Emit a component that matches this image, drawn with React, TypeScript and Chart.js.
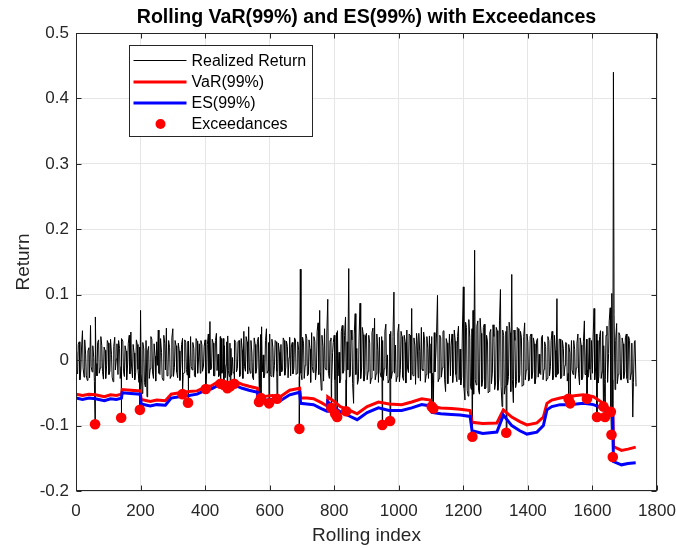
import { useEffect, useRef } from "react";
import { Chart, registerables } from "chart.js";
Chart.register(...registerables);

const FONT = '"Liberation Sans", Arial, Helvetica, sans-serif';

const TITLE = "Rolling VaR(99%) and ES(99%) with Exceedances";
const X_LABEL = "Rolling index";
const Y_LABEL = "Return";
const SERIES_NAMES = ["Realized Return", "VaR(99%)", "ES(99%)", "Exceedances"];

const xTicks = [0, 200, 400, 600, 800, 1000, 1200, 1400, 1600, 1800];
const yTicks = [-0.2, -0.1, 0, 0.1, 0.2, 0.3, 0.4, 0.5];

// realized return at rolling index 5*i (0..1735)
const RET_STEP = 5;
const returnsA = [
  0.012, -0.021, 0.028, -0.015, 0.045, -0.026, 0.008, -0.031, 0.019, 0.053, -0.018, 0.004, 0.066, -0.024, 0.031, -0.012, 0.022, -0.029, 0.015, -0.008,
  0.026, -0.017, 0.009, -0.033, 0.035, 0.002, -0.022, 0.018, -0.010, 0.029, -0.025, 0.014, -0.006, 0.038, 0.043, -0.027, 0.011, -0.019, 0.024, -0.034,
  0.076, -0.051, 0.017, -0.041, -0.056, 0.021, -0.013, 0.032, -0.028, 0.006, 0.028, 0.046, -0.022, 0.012, -0.031, 0.025, 0.049, -0.017, 0.019, -0.024,
  0.048, -0.011, 0.022, -0.027, 0.014, -0.006, 0.033, -0.019, 0.027, -0.023, 0.010, 0.036, -0.015, 0.018, -0.026, 0.029, 0.005, -0.020, 0.024, -0.009,
  0.031, -0.018, 0.040, 0.059, -0.012, 0.026, -0.024, 0.041, 0.009, -0.021, 0.033, -0.014, 0.022, -0.007, 0.037, -0.025, 0.018, 0.004, -0.019, 0.027,
  -0.013, 0.030, -0.022, 0.016, 0.044, -0.017, 0.028, 0.051, -0.020, 0.011, -0.030, 0.024, -0.012, 0.035, -0.026, 0.051, 0.008, -0.021, 0.048, -0.016,
  0.040, -0.025, 0.019, -0.008, 0.028, -0.020, 0.012, 0.024, -0.016, 0.030, -0.011, 0.021, 0.004, -0.024, 0.027, -0.013, 0.031, -0.020, 0.015, 0.139,
  -0.030, 0.026, -0.008, 0.033, -0.022, 0.017, 0.042, -0.019, 0.029, -0.012, 0.057, 0.076, -0.046, 0.021, 0.048, -0.015, 0.093, -0.028, 0.034, 0.012,
  0.038, -0.021, 0.045, 0.012, -0.029, 0.053, -0.016, 0.066, 0.028, 0.140, -0.024, 0.031, -0.066, 0.071, 0.018, -0.030, 0.087, -0.012, 0.039, -0.022,
  0.041, -0.017, 0.026, -0.028, 0.049, 0.064, -0.021, 0.015, 0.035, -0.026, 0.030, -0.013, 0.055, 0.008, -0.030, 0.044, -0.018, 0.104, 0.023, -0.025,
  0.055, -0.014, 0.036, -0.031, 0.027, 0.046, -0.019, 0.038, 0.079, -0.024, 0.022, 0.041, -0.027, 0.013, 0.050, -0.016, 0.031, -0.022, 0.018, 0.037,
  0.025, -0.020, 0.042, 0.011, 0.099, -0.028, 0.034, -0.012, 0.045, -0.048, 0.026, 0.008, -0.024, 0.040, -0.015, 0.029, -0.033, 0.052, 0.017, -0.026,
  0.112, -0.061, 0.050, -0.055, 0.035, -0.045, 0.076, 0.168, -0.038, 0.060, -0.052, 0.041, -0.030, 0.055, -0.042, 0.028, -0.048, 0.047, -0.020, 0.036,
  -0.035, 0.045, -0.028, 0.108, -0.071, 0.038, -0.040, 0.052, -0.025, 0.042, 0.131, -0.065, 0.030, -0.033, 0.048, -0.022, 0.035, -0.038, 0.057, -0.015,
  0.028, -0.030, 0.040, -0.018, 0.025, -0.026, 0.033, 0.009, -0.022, 0.038, -0.014, 0.021, -0.028, 0.030, -0.010, 0.044, -0.023, 0.015, 0.094, -0.020,
  0.032, -0.025, 0.018, -0.008, 0.026, -0.020, 0.011, 0.030, -0.022, 0.016, -0.012, 0.040, -0.038, 0.023, -0.026, 0.060, 0.005, -0.015, 0.034, -0.030,
  -0.020, 0.079, -0.012, 0.030, -0.025, 0.045, -0.018, 0.022, -0.030, 0.052, 0.010, 0.080, 0.102, 0.440, -0.045, 0.056, -0.022, 0.038, -0.030, 0.025,
  -0.018, 0.040, -0.035, 0.030, -0.020, -0.087, 0.028, -0.040,
];

// realized return at rolling index 5*i + 2 (2..1732)
const RET_OFFSET_B = 2;
const returnsB = [
  -0.019, 0.024, -0.030, 0.017, -0.012, 0.031, -0.024, 0.014, -0.027, -0.010, 0.022, -0.033, -0.005, 0.027, -0.020, 0.036, -0.017, 0.020, -0.028, 0.030,
  -0.022, 0.032, -0.026, 0.021, -0.015, 0.025, 0.030, -0.028, 0.033, -0.017, 0.022, -0.030, 0.026, -0.021, -0.009, 0.024, -0.030, 0.031, -0.014, 0.020,
  -0.020, 0.027, -0.034, 0.030, 0.014, -0.028, 0.036, -0.018, 0.025, -0.032, -0.008, -0.020, 0.033, -0.027, 0.038, -0.015, -0.024, 0.030, -0.028, 0.034,
  -0.025, 0.030, -0.018, 0.026, -0.031, 0.024, -0.022, 0.031, -0.014, 0.029, -0.027, -0.010, 0.027, -0.024, 0.033, -0.020, 0.025, 0.030, -0.017, 0.021,
  -0.026, 0.024, -0.020, -0.015, 0.032, -0.024, 0.030, -0.016, -0.025, 0.036, -0.020, 0.033, -0.027, 0.028, -0.016, 0.026, -0.023, -0.020, 0.031, -0.018,
  0.028, -0.025, 0.033, -0.028, -0.010, 0.036, -0.021, -0.012, 0.030, -0.026, 0.034, -0.020, 0.029, -0.024, 0.039, -0.018, -0.027, 0.030, -0.020, 0.027,
  -0.022, 0.032, -0.026, 0.030, -0.017, 0.026, -0.024, -0.018, 0.034, -0.023, 0.029, -0.027, 0.035, 0.020, -0.021, 0.034, -0.022, 0.028, -0.025, -0.020,
  0.035, -0.028, 0.040, -0.024, 0.031, -0.034, -0.010, 0.036, -0.030, 0.044, -0.022, -0.018, 0.038, -0.032, -0.012, 0.040, -0.020, 0.030, -0.036, 0.027,
  -0.030, 0.042, -0.024, -0.035, 0.044, -0.020, 0.038, -0.030, -0.015, -0.026, 0.046, -0.036, 0.040, -0.022, -0.037, 0.034, -0.028, 0.050, -0.032, 0.037,
  -0.030, 0.038, -0.036, 0.042, -0.016, -0.030, 0.040, -0.034, -0.018, 0.036, -0.031, 0.044, -0.024, -0.035, 0.040, -0.028, 0.036, -0.020, -0.033, 0.042,
  -0.033, 0.044, -0.026, 0.038, -0.035, -0.012, 0.040, -0.030, -0.022, 0.034, -0.037, 0.030, 0.041, -0.032, -0.014, 0.043, -0.034, 0.036, -0.028, -0.020,
  0.036, -0.030, -0.018, 0.040, -0.033, 0.038, -0.026, 0.044, -0.030, 0.033, -0.036, 0.040, 0.022, -0.034, 0.046, -0.022, 0.036, -0.030, -0.038, 0.043,
  -0.042, 0.058, -0.046, 0.062, -0.040, 0.048, -0.052, -0.030, 0.052, -0.046, 0.064, -0.040, 0.050, -0.044, 0.038, -0.050, 0.042, -0.036, 0.054, -0.045,
  0.050, -0.046, 0.060, -0.040, 0.046, -0.052, 0.044, -0.038, 0.058, -0.048, -0.030, 0.046, -0.042, 0.050, -0.034, 0.044, -0.040, 0.036, -0.030, 0.040,
  -0.032, 0.036, -0.028, 0.034, -0.036, 0.030, -0.026, -0.020, 0.034, -0.030, 0.028, -0.032, 0.036, -0.024, 0.030, -0.030, 0.038, -0.026, -0.022, 0.032,
  -0.028, 0.030, -0.024, 0.027, -0.032, 0.024, -0.026, -0.015, 0.030, -0.028, 0.026, -0.020, 0.034, -0.030, 0.028, -0.022, 0.032, -0.026, -0.014, 0.030,
  0.034, -0.030, 0.040, -0.035, 0.036, -0.028, 0.044, -0.036, 0.038, -0.034, 0.060, -0.040, -0.030, 0.070, 0.030, -0.036, 0.042, -0.030, 0.034, -0.028,
  0.034, -0.028, 0.036, -0.030, 0.026, -0.034, 0.030,
];

// exceedances: rolling index and realized return below VaR
const excIdx = [59, 140, 198, 330, 347, 402, 448, 458, 469, 478, 490, 567, 573, 598, 623, 692, 791, 803, 809, 837, 949, 973, 1102, 1107, 1228, 1333, 1526, 1531, 1583, 1614, 1634, 1639, 1657, 1659, 1663];
const excVal = [-0.098, -0.088, -0.076, -0.052, -0.065, -0.044, -0.036, -0.038, -0.043, -0.040, -0.036, -0.064, -0.058, -0.066, -0.059, -0.105, -0.073, -0.082, -0.087, -0.078, -0.099, -0.093, -0.071, -0.074, -0.117, -0.111, -0.059, -0.066, -0.059, -0.087, -0.071, -0.087, -0.079, -0.114, -0.148];

// VaR / ES knots
const riskIdx = [0, 20, 40, 60, 88, 107, 125, 141, 143, 170, 199, 202, 230, 250, 277, 295, 320, 350, 375, 402, 420, 443, 470, 495, 515, 536, 562, 565, 590, 608, 633, 662, 693, 696, 715, 736, 760, 778, 780, 800, 819, 845, 871, 902, 937, 970, 1009, 1040, 1071, 1097, 1103, 1130, 1163, 1190, 1221, 1227, 1260, 1304, 1324, 1350, 1375, 1397, 1428, 1448, 1459, 1474, 1500, 1521, 1550, 1572, 1603, 1634, 1655, 1663, 1665, 1690, 1710, 1734];
const varVal = [-0.052, -0.054, -0.052, -0.053, -0.056, -0.053, -0.054, -0.052, -0.045, -0.046, -0.047, -0.060, -0.063, -0.061, -0.062, -0.052, -0.050, -0.048, -0.047, -0.041, -0.039, -0.032, -0.034, -0.033, -0.037, -0.040, -0.043, -0.056, -0.055, -0.054, -0.056, -0.046, -0.043, -0.058, -0.058, -0.059, -0.065, -0.070, -0.056, -0.063, -0.071, -0.076, -0.082, -0.071, -0.064, -0.067, -0.068, -0.064, -0.059, -0.061, -0.071, -0.073, -0.074, -0.075, -0.077, -0.095, -0.097, -0.096, -0.076, -0.087, -0.094, -0.099, -0.096, -0.087, -0.066, -0.061, -0.058, -0.056, -0.054, -0.053, -0.056, -0.066, -0.076, -0.078, -0.132, -0.138, -0.136, -0.133];
const esVal = [-0.058, -0.060, -0.058, -0.059, -0.062, -0.059, -0.060, -0.058, -0.050, -0.051, -0.052, -0.067, -0.070, -0.068, -0.069, -0.058, -0.056, -0.054, -0.052, -0.046, -0.044, -0.038, -0.039, -0.039, -0.043, -0.046, -0.049, -0.062, -0.061, -0.060, -0.062, -0.053, -0.049, -0.066, -0.067, -0.068, -0.074, -0.078, -0.064, -0.072, -0.079, -0.085, -0.091, -0.080, -0.073, -0.077, -0.077, -0.073, -0.068, -0.070, -0.080, -0.082, -0.083, -0.084, -0.086, -0.108, -0.112, -0.110, -0.084, -0.100, -0.108, -0.113, -0.110, -0.100, -0.076, -0.071, -0.068, -0.068, -0.067, -0.066, -0.068, -0.074, -0.082, -0.085, -0.155, -0.160, -0.158, -0.157];

const AXIS_COLOR = "#262626";
const GRID_COLOR = "#e6e6e6";

const framePlugin = {
  id: "matlabFrame",
  afterDraw(chart: any) {
    const { ctx, chartArea: a, scales } = chart;
    const L = Math.round(a.left) + 0.5;
    const R = Math.round(a.right) - 0.5;
    const T = Math.round(a.top) + 0.5;
    const B = Math.round(a.bottom) - 0.5;
    ctx.save();
    ctx.strokeStyle = AXIS_COLOR;
    ctx.lineWidth = 1;
    ctx.strokeRect(L, T, R - L, B - T);
    const tl = 5;
    ctx.beginPath();
    xTicks.forEach((v) => {
      const px = Math.round(scales.x.getPixelForValue(v)) + 0.5;
      ctx.moveTo(px, B);
      ctx.lineTo(px, B - tl);
      ctx.moveTo(px, T);
      ctx.lineTo(px, T + tl);
    });
    yTicks.forEach((v) => {
      const py = Math.round(scales.y.getPixelForValue(v)) + 0.5;
      ctx.moveTo(L, py);
      ctx.lineTo(L + tl, py);
      ctx.moveTo(R, py);
      ctx.lineTo(R - tl, py);
    });
    ctx.stroke();
    // title centred over the axes
    ctx.fillStyle = "#000000";
    ctx.font = `bold 19.6px ${FONT}`;
    ctx.textAlign = "center";
    ctx.textBaseline = "middle";
    ctx.fillText(TITLE, (a.left + a.right) / 2, 18);
    ctx.restore();
  },
};

const legendPlugin = {
  id: "boxLegend",
  afterDraw(chart: any) {
    const { ctx, chartArea: a } = chart;
    const x0 = Math.round(a.left + 53) + 0.5;
    const y0 = Math.round(a.top + 12) + 0.5;
    const w = 183;
    const h = 91;
    ctx.save();
    ctx.fillStyle = "#ffffff";
    ctx.fillRect(x0, y0, w, h);
    ctx.strokeStyle = AXIS_COLOR;
    ctx.lineWidth = 1;
    ctx.strokeRect(x0, y0, w, h);
    const rows = [15, 36.5, 57.5, 78.5];
    ctx.font = `16px ${FONT}`;
    ctx.textBaseline = "middle";
    ctx.textAlign = "left";
    chart.data.datasets.forEach((ds: any, i: number) => {
      const cy = y0 + rows[i];
      if (i < 3) {
        ctx.strokeStyle = ds.borderColor;
        ctx.lineWidth = ds.borderWidth;
        ctx.beginPath();
        ctx.moveTo(x0 + 4, cy);
        ctx.lineTo(x0 + 57, cy);
        ctx.stroke();
      } else {
        ctx.fillStyle = ds.backgroundColor;
        ctx.beginPath();
        ctx.arc(x0 + 31, cy, 5, 0, Math.PI * 2);
        ctx.fill();
      }
      ctx.fillStyle = "#000000";
      ctx.fillText(ds.label, x0 + 62, cy + 1);
    });
    ctx.restore();
  },
};

export default function App() {
  const ref = useRef<HTMLCanvasElement>(null);
  useEffect(() => {
    const canvas = ref.current!;
    const aPts = returnsA.map((v, i) => ({ x: i * RET_STEP, y: v }));
    const bPts = returnsB.map((v, i) => ({ x: i * RET_STEP + RET_OFFSET_B, y: v }));
    const excPts = excIdx.map((x, i) => ({ x, y: excVal[i] }));
    const blackPts = [...aPts, ...bPts, ...excPts].sort((p, q) => p.x - q.x);
    const varPts = riskIdx.map((x, i) => ({ x, y: varVal[i] }));
    const esPts = riskIdx.map((x, i) => ({ x, y: esVal[i] }));

    const chart = new Chart(canvas, {
      type: "line",
      data: {
        datasets: [
          { label: SERIES_NAMES[0], data: blackPts, borderColor: "#000000", borderWidth: 1, pointRadius: 0, tension: 0, order: 4 },
          { label: SERIES_NAMES[1], data: varPts, borderColor: "#ff0000", borderWidth: 3, pointRadius: 0, tension: 0, order: 3 },
          { label: SERIES_NAMES[2], data: esPts, borderColor: "#0000ff", borderWidth: 3, pointRadius: 0, tension: 0, order: 2 },
          {
            label: SERIES_NAMES[3],
            type: "scatter",
            data: excPts,
            backgroundColor: "#ff0000",
            borderColor: "#ff0000",
            borderWidth: 0,
            pointRadius: 5.3,
            showLine: false,
            order: 1,
          } as any,
        ],
      },
      options: {
        animation: false,
        responsive: false,
        maintainAspectRatio: false,
        layout: { padding: { top: 33, right: 19, bottom: 0, left: 0 } },
        plugins: {
          legend: { display: false },
          tooltip: { enabled: false },
          title: { display: false },
        },
        scales: {
          x: {
            type: "linear",
            min: 0,
            max: 1800,
            afterBuildTicks: (s: any) => {
              s.ticks = xTicks.map((v) => ({ value: v }));
            },
            ticks: {
              color: AXIS_COLOR,
              font: { family: FONT, size: 17 },
              padding: 10,
              maxRotation: 0,
              callback: (v: any) => String(v),
            },
            grid: { color: GRID_COLOR, drawTicks: false },
            border: { display: false },
            title: {
              display: true,
              text: X_LABEL,
              color: AXIS_COLOR,
              font: { family: FONT, size: 19 },
              padding: { top: 0, bottom: 1 },
            },
            afterFit: (s: any) => {
              s.height = 57;
              s.paddingLeft = 0;
              s.paddingRight = 0;
            },
          },
          y: {
            type: "linear",
            min: -0.2,
            max: 0.5,
            afterBuildTicks: (s: any) => {
              s.ticks = yTicks.map((v) => ({ value: v }));
            },
            ticks: {
              color: AXIS_COLOR,
              font: { family: FONT, size: 17 },
              padding: 7,
              callback: (v: any) => String(Math.round(Number(v) * 10) / 10),
            },
            grid: { color: GRID_COLOR, drawTicks: false },
            border: { display: false },
            title: {
              display: true,
              text: Y_LABEL,
              color: AXIS_COLOR,
              font: { family: FONT, size: 19 },
              padding: { top: 12, bottom: 0 },
            },
            afterFit: (s: any) => {
              s.width = 76;
              s.paddingTop = 0;
              s.paddingBottom = 0;
            },
          },
        },
      },
      plugins: [framePlugin, legendPlugin],
    });
    return () => chart.destroy();
  }, []);

  return (
    <div style={{ position: "fixed", left: 0, top: 0, width: 676, height: 548, background: "#ffffff" }}>
      <canvas ref={ref} width={676} height={548} style={{ display: "block", width: 676, height: 548 }} />
    </div>
  );
}
